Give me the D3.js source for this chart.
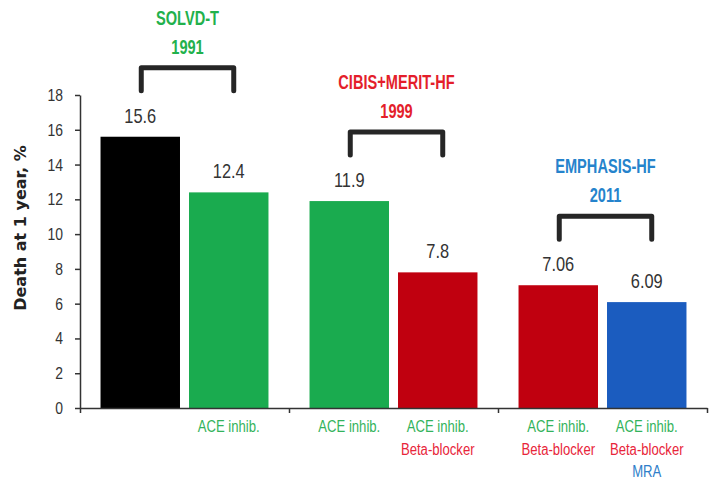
<!DOCTYPE html>
<html>
<head>
<meta charset="utf-8">
<script src="https://cdn.jsdelivr.net/npm/d3@7"></script>
<style>
  body { margin: 0; background: #fff; }
  svg { display: block; }
  text { font-family: "Liberation Sans", Arial, sans-serif; }
</style>
</head>
<body>
<svg id="chart" width="725" height="482"></svg>
<script>
// trials, one per group
var trials = ["SOLVD-T", "CIBIS+MERIT-HF", "EMPHASIS-HF"];
var years = ["1991", "1999", "2011"];
var trialColors = ["#22b14c", "#e41e2b", "#2583cc"];

// bars
var barTrial = [0, 0, 1, 1, 2, 2];
var values = [15.6, 12.4, 11.9, 7.8, 7.06, 6.09];
var valueLabels = ["15.6", "12.4", "11.9", "7.8", "7.06", "6.09"];
var therapies = [
    [],
    ["ACE inhib."],
    ["ACE inhib."],
    ["ACE inhib.", "Beta-blocker"],
    ["ACE inhib.", "Beta-blocker"],
    ["ACE inhib.", "Beta-blocker", "MRA"]
];

var yTicks = [0, 2, 4, 6, 8, 10, 12, 14, 16, 18];

// colours for each therapy
var therapyNames = ["ACE inhib.", "Beta-blocker", "MRA"];
var therapyBar = ["#1aab4f", "#c0000f", "#1b5cbf"];
var therapyText = ["#33b35c", "#e8253a", "#2e7ec9"];

var NARROW = 0.82;   // no condensed font installed, squeeze instead

var svg = d3.select("#chart");

var x0 = d3.scaleBand().domain(trials).range([80, 707]).padding(0);
var x1 = d3.scaleBand().domain([0, 1]).range([0, x0.bandwidth()])
    .paddingInner(0.102).paddingOuter(0.232);
var y = d3.scaleLinear().domain([0, 18]).range([408, 95]);

function barX(i) {
    return x0(trials[barTrial[i]]) + x1(i % 2);
}
function barColor(i) {
    var t = therapies[i];
    if (t.length == 0) return "#000";
    return therapyBar[therapyNames.indexOf(t[t.length - 1])];
}
function label(parent, x, yy, sx) {
    return parent.append("text")
        .attr("transform", "translate(" + x + "," + yy + ") scale(" + sx + ",1)")
        .attr("text-anchor", "middle");
}

// bars
svg.append("g")
    .selectAll("rect")
    .data(values)
    .enter().append("rect")
    .attr("x", function(d, i) { return barX(i); })
    .attr("y", function(d) { return y(d); })
    .attr("width", x1.bandwidth())
    .attr("height", function(d) { return y(0) - y(d); })
    .attr("fill", function(d, i) { return barColor(i); });

// value labels
values.forEach(function(v, i) {
    label(svg, barX(i) + x1.bandwidth() / 2, y(v) - 14, NARROW)
        .attr("font-size", 20)
        .attr("fill", "#333")
        .text(valueLabels[i]);
});

// y axis
var yAxis = svg.append("g")
    .attr("transform", "translate(80,0)")
    .call(d3.axisLeft(y).tickValues(yTicks).tickSize(5).tickSizeOuter(0).tickPadding(12));
yAxis.selectAll("text")
    .attr("x", -17 / NARROW)
    .attr("transform", "scale(" + NARROW + ",1)")
    .attr("font-family", null)
    .attr("font-size", 17)
    .attr("fill", "#333");

// x axis, ticks between trial groups
var xb = d3.scaleLinear().domain([0, 3]).range([80, 707]);
svg.append("g")
    .attr("transform", "translate(0,408)")
    .call(d3.axisBottom(xb).ticks(3).tickSize(5).tickSizeOuter(0).tickFormat(""));

svg.selectAll(".domain, .tick line")
    .attr("stroke", "#333")
    .attr("stroke-width", 1.5);

svg.append("text")
    .attr("transform", "translate(26,228) rotate(-90)")
    .attr("text-anchor", "middle")
    .style("font-family", "'DejaVu Sans', sans-serif")
    .attr("font-weight", "bold")
    .attr("font-size", 16)
    .attr("fill", "#222")
    .text("Death at 1 year, %");

// therapy labels under bars
therapies.forEach(function(list, i) {
    var cx = barX(i) + x1.bandwidth() / 2;
    list.forEach(function(name, j) {
        label(svg, cx, 432 + j * 22.5, NARROW)
            .attr("font-size", 16)
            .attr("fill", therapyText[therapyNames.indexOf(name)])
            .text(name);
    });
});

// brackets and trial titles
trials.forEach(function(name, g) {
    var left = x0(name) + x1(0) + x1.bandwidth() / 2 + 1;
    var right = x0(name) + x1(1) + x1.bandwidth() / 2 + 5;
    var top = y(values[g * 2]) - 69;
    svg.append("path")
        .attr("d", "M" + left + "," + (top + 23) + "V" + top + "H" + right + "V" + (top + 23))
        .attr("fill", "none")
        .attr("stroke", "#262626")
        .attr("stroke-width", 5)
        .attr("stroke-linejoin", "round")
        .attr("stroke-linecap", "round");

    var cx = (left + right) / 2;
    [name, years[g]].forEach(function(line, k) {
        label(svg, cx, top - 14 - (1 - k) * 29, 0.73)
            .attr("font-weight", "bold")
            .attr("font-size", 20)
            .attr("fill", trialColors[g])
            .text(line);
    });
});
</script>
</body>
</html>
